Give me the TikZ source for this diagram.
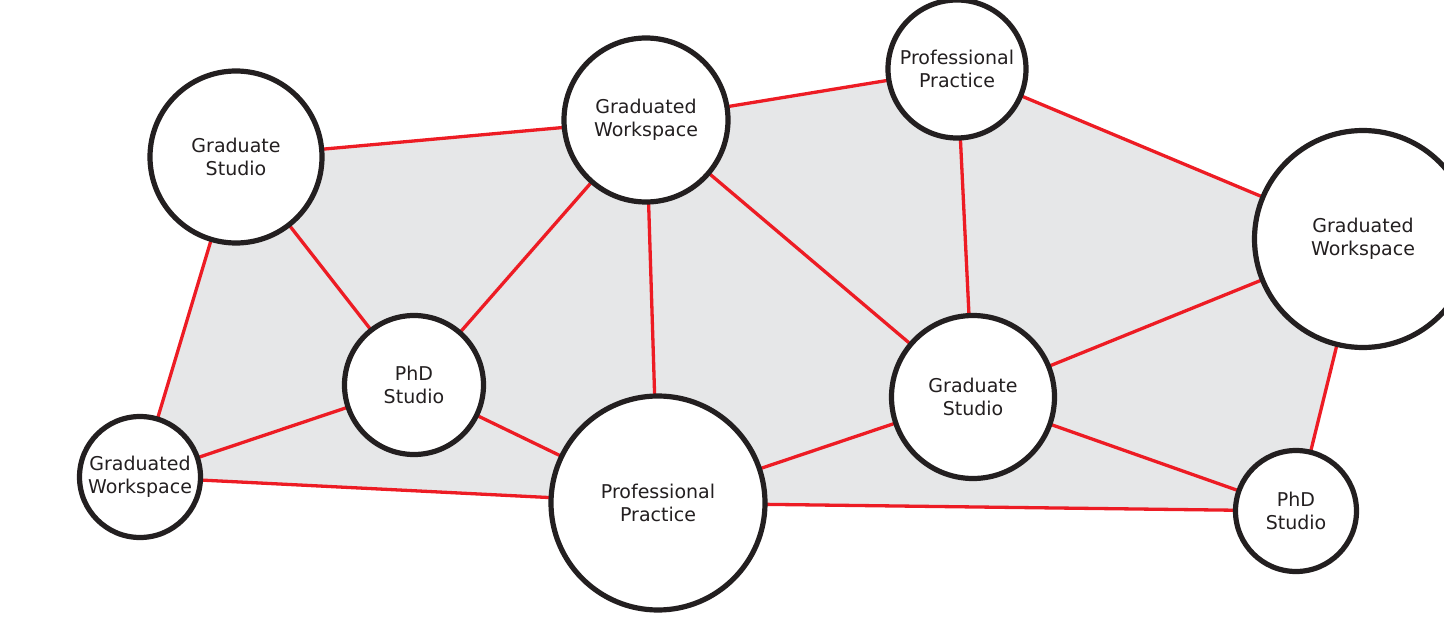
\documentclass[tikz,border=0pt]{standalone}
\usepackage{fontspec}
\setmainfont{DejaVu Sans}
\definecolor{edgered}{HTML}{ED1C24}
\definecolor{fillgray}{HTML}{E6E7E8}
\definecolor{ink}{HTML}{231F20}
\begin{document}
\begin{tikzpicture}[x=1pt,y=-1pt,
  hub/.style={circle,draw=ink,line width=5.2pt,fill=white,inner sep=0pt,
    align=center,text=ink,font=\fontsize{19}{23.5}\selectfont},
  link/.style={draw=edgered,line width=3.3pt}]
\useasboundingbox (0,0) rectangle (1444,623);
% centres
\coordinate (c1) at (236,157);
\coordinate (c2) at (646,120);
\coordinate (c3) at (957,69);
\coordinate (c4) at (1363,239);
\coordinate (c5) at (414,385);
\coordinate (c6) at (973,397);
\coordinate (c7) at (140,477);
\coordinate (c8) at (658,503);
\coordinate (c9) at (1296,511);
\fill[fillgray] (c1) -- (c2) -- (c3) -- (c4) -- (c9) -- (c8) -- (c7) -- cycle;
\foreach \a/\b in {c1/c2,c2/c3,c3/c4,c4/c9,c9/c8,c8/c7,c7/c1,c1/c5,c5/c2,c5/c7,c5/c8,c2/c8,c2/c6,c3/c6,c6/c4,c6/c8,c6/c9}
  \draw[link] (\a) -- (\b);
\node[hub,minimum size=172pt] (n1) at (c1) {Graduate\\Studio};
\node[hub,minimum size=164pt] (n2) at (c2) {Graduated\\Workspace};
\node[hub,minimum size=138pt] (n3) at (c3) {Professional\\Practice};
\node[hub,minimum size=217pt] (n4) at (c4) {Graduated\\Workspace};
\node[hub,minimum size=139pt] (n5) at (c5) {PhD\\Studio};
\node[hub,minimum size=163pt] (n6) at (c6) {Graduate\\Studio};
\node[hub,minimum size=121pt] (n7) at (c7) {Graduated\\Workspace};
\node[hub,minimum size=214pt] (n8) at (c8) {Professional\\Practice};
\node[hub,minimum size=121pt] (n9) at (c9) {PhD\\Studio};
\end{tikzpicture}
\end{document}
